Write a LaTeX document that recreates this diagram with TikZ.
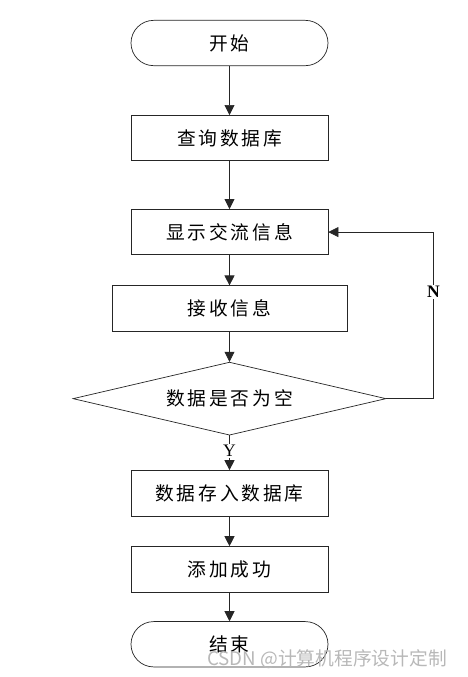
\documentclass[tikz,border=0pt]{standalone}
\usepackage{fontspec}
\usepackage{xcolor}
\usepackage{tikz}
\usetikzlibrary{positioning,shapes.geometric,arrows.meta}
\setmainfont{Liberation Serif}
\newfontfamily\cjkfont[LetterSpace=15]{Noto Sans CJK SC}
\newfontfamily\markfont{Noto Sans CJK SC}
\definecolor{lineGray}{HTML}{262626}
\definecolor{markGray}{HTML}{B8B8B8}
\tikzset{
    terminal/.style={draw=lineGray, fill=white, rounded corners=6.8mm,
                     minimum width=59.1mm, minimum height=13.6mm, inner sep=0pt,
                     font=\cjkfont\fontsize{16}{18}\selectfont, line width=0.6pt},
    process/.style={draw=lineGray, fill=white, rectangle,
                    minimum width=59.1mm, minimum height=13.6mm, inner sep=0pt,
                    font=\cjkfont\fontsize{16}{18}\selectfont, line width=0.6pt},
    decision/.style={draw=lineGray, fill=white, diamond, shape aspect=4.3,
                     minimum width=93.9mm, minimum height=21.9mm, inner sep=0pt,
                     font=\cjkfont\fontsize{16}{18}\selectfont, line width=0.6pt},
    flow/.style={-{Triangle[length=3mm,width=3mm]}, draw=lineGray, line width=0.6pt},
    branchLbl/.style={font=\fontsize{15}{17}\selectfont, fill=white, inner sep=1pt},
}

\begin{document}
\begin{tikzpicture}[
    node distance=9mm,
]
\useasboundingbox (0,0) rectangle (140.4mm,-203.1mm);

% =======================  main column  =======================
\node[terminal] (start) at (68.85mm,-12.9mm) {开始};
\node[process, below=14.7mm of start] (query) {查询数据库};
\node[process, below=14.4mm of query] (show) {显示交流信息};
\node[process, minimum width=70.5mm, below=9.1mm of show] (recv) {接收信息};
\node[decision, below=9.1mm of recv] (empty) {数据是否为空};
\node[process, below=10.4mm of empty] (store) {数据存入数据库};
\node[process, below=9mm of store] (added) {添加成功};
\node[terminal, below=8.7mm of added] (stop) {结束};

% arrows down the column
\draw[flow] (start) -- (query);
\draw[flow] (query) -- (show);
\draw[flow] (show) -- (recv);
\draw[flow] (recv) -- (empty);
\draw[flow] (empty) -- node[branchLbl, pos=0.45] {Y} (store);
\draw[flow] (store) -- (added);
\draw[flow] (added) -- (stop);

% loop back when not empty
\draw[flow] (empty.east) -- ++(14.1mm,0)
    |- node[branchLbl, pos=0.32, font=\bfseries\fontsize{15}{17}\selectfont] {N} (show.east);

% watermark
\node[font=\markfont\fontsize{16}{18}\selectfont, text=markGray, inner sep=0pt]
     (mark) at (98.1mm,-197.7mm) {CSDN @计算机程序设计定制};

\end{tikzpicture}
\end{document}
